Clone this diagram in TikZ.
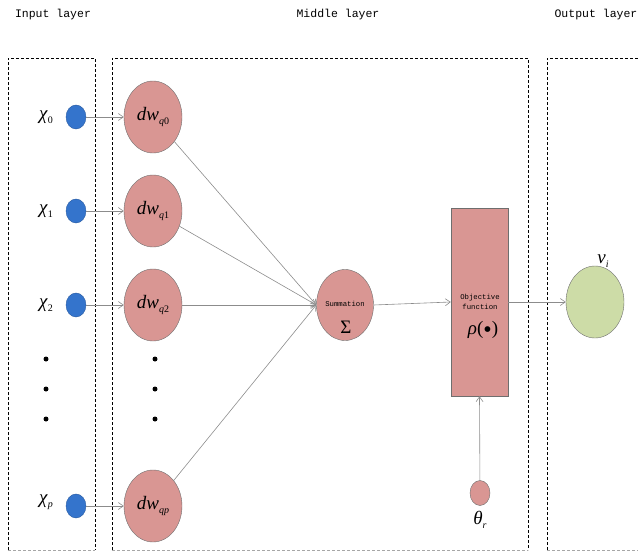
\documentclass[tikz,border=0pt]{standalone}
\usepackage{fontspec}
\setmonofont{Liberation Mono}
\setmainfont{Liberation Serif}
\usetikzlibrary{shapes.geometric,arrows.meta}
\definecolor{inblue}{RGB}{52,116,204}
\definecolor{inblueedge}{RGB}{40,90,160}
\definecolor{pinkf}{RGB}{217,150,147}
\definecolor{greenf}{RGB}{205,220,167}
\definecolor{edgegray}{RGB}{110,110,110}
\definecolor{linegray}{RGB}{140,140,140}
\newcommand{\lowsub}[1]{\raisebox{-0.5ex}{\fontsize{10}{11}\selectfont #1}}
\tikzset{
  layerbox/.style={draw=black, dash pattern=on 3pt off 2pt, line width=0.7pt},
  bottomdash/.style={draw=gray!70, dash pattern=on 3pt off 2pt, line width=0.7pt},
  inputnode/.style={ellipse, fill=inblue, draw=inblueedge, line width=0.4pt, minimum width=20pt, minimum height=24pt, inner sep=0pt},
  weightnode/.style={ellipse, fill=pinkf, draw=edgegray, line width=0.4pt, minimum width=58pt, minimum height=72pt, inner sep=0pt, font=\fontsize{19}{21}\selectfont},
  outnode/.style={ellipse, fill=greenf, draw=edgegray, line width=0.4pt, minimum width=58pt, minimum height=72pt, inner sep=0pt},
  conn/.style={draw=linegray, line width=0.6pt, -{Straight Barb[length=5pt,width=7pt,line width=0.6pt]}},
  headtext/.style={font=\ttfamily\fontsize{11.5}{14}\selectfont},
  smalltext/.style={font=\ttfamily\fontsize{7.3}{9.5}\selectfont, align=center},
  dotnode/.style={circle, fill=black, minimum size=5pt, inner sep=0pt},
  xlab/.style={font=\fontsize{19}{21}\selectfont}
}
\begin{document}
\begin{tikzpicture}[x=1pt,y=-1pt]
\useasboundingbox (0,0) rectangle (638,552);
% layer titles
\node[headtext] (tin) at (53,15) {Input layer};
\node[headtext] (tmid) at (338,15) {Middle layer};
\node[headtext] (tout) at (596,15) {Output layer};
% layer boxes
\draw[layerbox] (8,550) -- (8,58) -- (95,58) -- (95,550);
\draw[bottomdash] (8,550) -- (95,550);
\draw[layerbox] (112,550) -- (112,58) -- (528,58) -- (528,550);
\draw[bottomdash] (112,550) -- (528,550);
\draw[layerbox] (547,550) -- (547,58) -- (640,58);
\draw[bottomdash] (547,550) -- (640,550);
% input nodes
\node[inputnode] (x0) at (76,117) {};
\node[inputnode] (x1) at (76,211) {};
\node[inputnode] (x2) at (76,305) {};
\node[inputnode] (xp) at (76,506) {};
\node[xlab] (lx0) at (46,117) {\textit{χ}\lowsub{0}};
\node[xlab] (lx1) at (46,211) {\textit{χ}\lowsub{1}};
\node[xlab] (lx2) at (46,305) {\textit{χ}\lowsub{2}};
\node[xlab] (lxp) at (46,502) {\textit{χ}\lowsub{\textit{p}}};
\node[dotnode] (d1) at (46,359) {};
\node[dotnode] (d2) at (46,389) {};
\node[dotnode] (d3) at (46,419) {};
% weight nodes
\node[weightnode] (w0) at (153,117) {\textit{dw}\lowsub{\textit{q}0}};
\node[weightnode] (w1) at (153,211) {\textit{dw}\lowsub{\textit{q}1}};
\node[weightnode] (w2) at (153,305) {\textit{dw}\lowsub{\textit{q}2}};
\node[weightnode] (wp) at (153,506) {\textit{dw}\lowsub{\textit{qp}}};
\node[dotnode] (e1) at (155,359) {};
\node[dotnode] (e2) at (155,389) {};
\node[dotnode] (e3) at (155,419) {};
% summation
\node[weightnode, minimum width=57pt, minimum height=71pt] (sum) at (345,305) {};
\node[smalltext] (sumt) at (345,304) {Summation};
\node[font=\fontsize{19}{21}\selectfont] (sigma) at (346,327) {Σ};
% objective function
\node[rectangle, fill=pinkf, draw=edgegray, line width=0.4pt, minimum width=57pt, minimum height=188pt, inner sep=0pt] (obj) at (479.5,302) {};
\node[smalltext] (objt) at (480,302) {Objective\\function};
\node[font=\fontsize{19}{21}\selectfont] (rho) at (483,330) {\textit{ρ}(\raisebox{-0.35ex}{\fontsize{24}{24}\selectfont •})};
% theta
\node[ellipse, fill=pinkf, draw=edgegray, line width=0.4pt, minimum width=20pt, minimum height=25pt, inner sep=0pt] (th) at (480,493) {};
\node[xlab] (tht) at (480,520) {\textit{θ}\lowsub{\textit{r}}};
% output
\node[outnode] (out) at (595,302) {};
\node[xlab] (vi) at (603,261) {\textit{v}\lowsub{\textit{i}}};
% connectors
\draw[conn] (x0) -- (w0);
\draw[conn] (x1) -- (w1);
\draw[conn] (x2) -- (w2);
\draw[conn] (xp) -- (wp);
\draw[conn] (w0) -- (sum.west);
\draw[conn] (w1) -- (sum.west);
\draw[conn] (w2) -- (sum.west);
\draw[conn] (wp) -- (sum.west);
\draw[conn] (sum.east) -- (obj.west);
\draw[conn] (obj.east) -- (out.west);
\draw[conn] (th) -- (obj.south);
\end{tikzpicture}
\end{document}
